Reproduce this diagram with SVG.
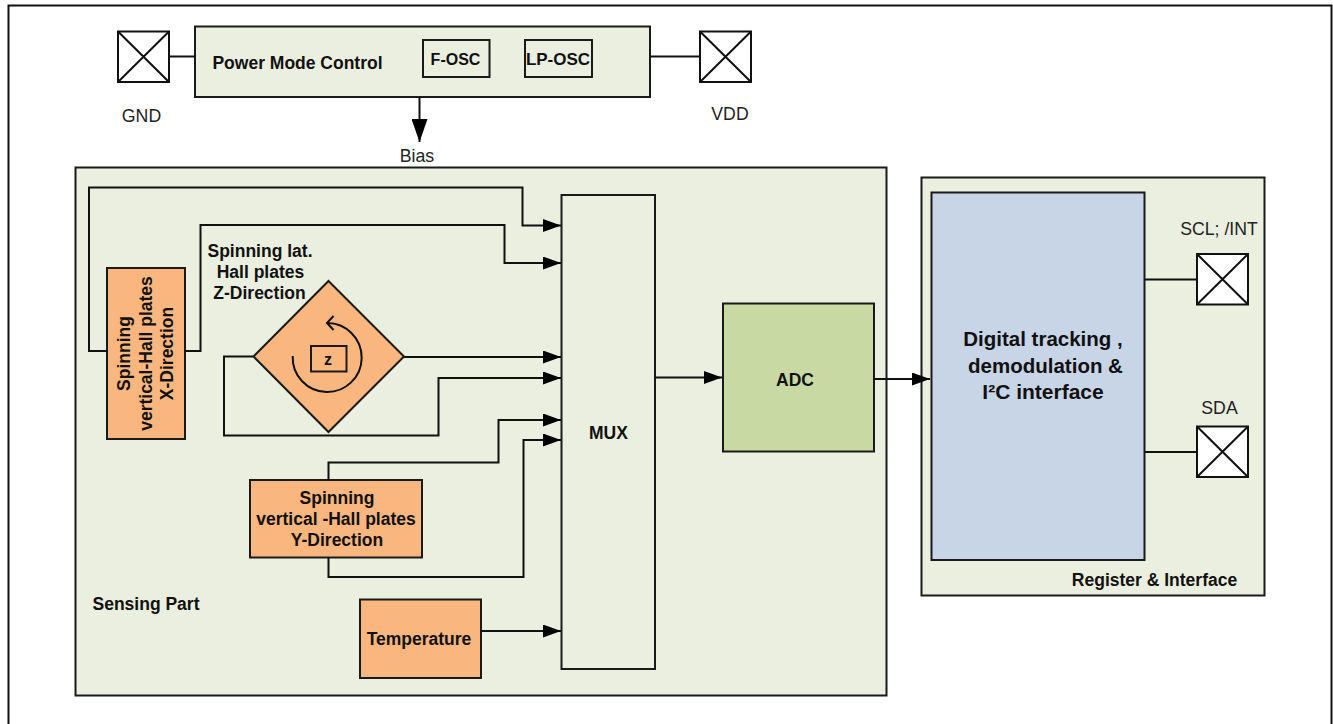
<svg xmlns="http://www.w3.org/2000/svg" width="1333" height="724" viewBox="0 0 1333 724">
<defs>
<marker id="arr" markerUnits="userSpaceOnUse" markerWidth="20" markerHeight="14" refX="18" refY="6.500" orient="auto"><path d="M0 0L18 6.500L0 13Z" fill="#000"/></marker>
<marker id="bias" markerUnits="userSpaceOnUse" markerWidth="24" markerHeight="16" refX="23" refY="8" orient="auto"><path d="M0 0L23 8L0 16Z" fill="#000"/></marker>
</defs>
<style>
text{font-family:"Liberation Sans",Arial,sans-serif;fill:#111;text-anchor:middle}
.b{font-weight:700;font-size:17.500px}
.s{font-weight:700;font-size:16px}
.r{font-size:17.700px;fill:#222}
.d{font-weight:700;font-size:20.500px}
.box{stroke:#1a1a1a;stroke-width:2}
.g{fill:#ebefdf}
.o{fill:#f9b67e}
.pad{fill:#fff;stroke:#111;stroke-width:2}
.w{fill:none;stroke:#111;stroke-width:2}
.a{marker-end:url(#arr)}
</style>
<rect width="1333" height="724" fill="#fff"/>
<path d="M8.500 724V5.500H1331.500V724" class="w"/>
<g id="power-mode-control">
<rect class="box g" x="195" y="26.500" width="455" height="70.500"/>
<text class="b" x="297.500" y="68.500">Power Mode Control</text>
</g>
<g id="f-osc"><rect class="box g" x="423" y="40" width="66.500" height="37"/><text class="s" x="455.500" y="64.500">F-OSC</text></g>
<g id="lp-osc"><rect class="box g" x="525" y="40" width="67" height="37"/><text class="s" style="font-size:17px" x="558" y="64.500">LP-OSC</text></g>
<g id="gnd"><rect class="pad" x="118" y="31.500" width="51" height="50.500"/><path class="w" d="M118 31.500L169 82M169 31.500L118 82"/><text class="r" x="141.500" y="122">GND</text></g>
<g id="vdd"><rect class="pad" x="700" y="31.500" width="51" height="50.500"/><path class="w" d="M700 31.500L751 82M751 31.500L700 82"/><text class="r" x="730" y="119.500">VDD</text></g>
<g id="sensing-part">
<rect class="box g" x="75.500" y="167.500" width="811" height="528"/>
<text class="b" x="146" y="609.500">Sensing Part</text>
</g>
<text class="r" x="417" y="161.500">Bias</text>
<g id="register-interface">
<rect class="box g" x="921.500" y="177.500" width="343" height="418"/>
<text class="b" x="1154.500" y="585.500">Register &amp; Interface</text>
</g>
<g id="mux"><rect class="box g" x="561.500" y="195" width="93.500" height="474"/><text class="b" x="608.500" y="438.500">MUX</text></g>
<g id="adc"><rect class="box" fill="#c9d9a4" x="723" y="303.500" width="151" height="148"/><text class="b" x="795" y="385.500">ADC</text></g>
<g id="digital"><rect class="box" fill="#c8d5e6" x="931.500" y="192.500" width="213" height="367.500"/>
<text class="d" x="1043" y="346">Digital tracking ,</text>
<text class="d" x="1045.500" y="373">demodulation &amp;</text>
<text class="d" style="font-size:21px" x="1043" y="399">I²C interface</text></g>
<g id="x-hall"><rect class="box o" x="107" y="268" width="78" height="171"/>
<g transform="translate(146 353.500) rotate(-90)"><text class="b" y="-16">Spinning</text><text class="b" y="6">vertical-Hall plates</text><text class="b" y="27">X-Direction</text></g></g>
<g id="z-hall"><path class="box o" d="M328.500 281L404 356.500L328.500 432L253.500 356.500Z"/>
<rect class="box" fill="none" x="311" y="346" width="35.500" height="25.500"/><text class="s" x="328" y="365">z</text>
<path class="w" d="M292.700 356A34.500 34.500 0 1 0 327 323M333.500 316L327 323L333.500 330"/>
<text class="b" x="260" y="256.500">Spinning lat.</text><text class="b" x="260.500" y="277.500">Hall plates</text><text class="b" x="259.500" y="298.500">Z-Direction</text></g>
<g id="y-hall"><rect class="box o" x="250" y="480" width="172" height="77.500"/>
<text class="b" x="337" y="503.500">Spinning</text><text class="b" x="336" y="524.500">vertical -Hall plates</text><text class="b" x="337" y="545.500">Y-Direction</text></g>
<g id="temperature"><rect class="box o" x="360" y="599.500" width="121" height="78.500"/><text class="b" x="419" y="644.500">Temperature</text></g>
<g id="scl"><rect class="pad" x="1197" y="254" width="51" height="50.500"/><path class="w" d="M1197 254L1248 304.500M1248 254L1197 304.500"/><text class="r" x="1219" y="234.500">SCL; /INT</text></g>
<g id="sda"><rect class="pad" x="1197" y="426.500" width="51" height="50.500"/><path class="w" d="M1197 426.500L1248 477M1248 426.500L1197 477"/><text class="r" x="1219.500" y="413.500">SDA</text></g>
<g id="connectors">
<path class="w" d="M169 56.500H195M650 56.500H700M1145 279.500H1197M1145 452H1197"/>
<path class="w" style="marker-end:url(#bias)" d="M419.500 97V142"/>
<path class="w a" d="M107 351H89V187.500H522.500V225.500H561"/>
<path class="w a" d="M185 351H200.500V225H504.500V263H561"/>
<path class="w a" d="M404 357H561"/>
<path class="w a" d="M253.500 356.500H224V435.500H438.500V378H561"/>
<path class="w a" d="M328.500 480V462.500H498.500V420H561"/>
<path class="w a" d="M328.500 557.500V577H523.500V440H561"/>
<path class="w a" d="M481 631H561"/>
<path class="w a" d="M655 377.500H722"/>
<path class="w a" d="M874 379H930"/>
</g>
</svg>
